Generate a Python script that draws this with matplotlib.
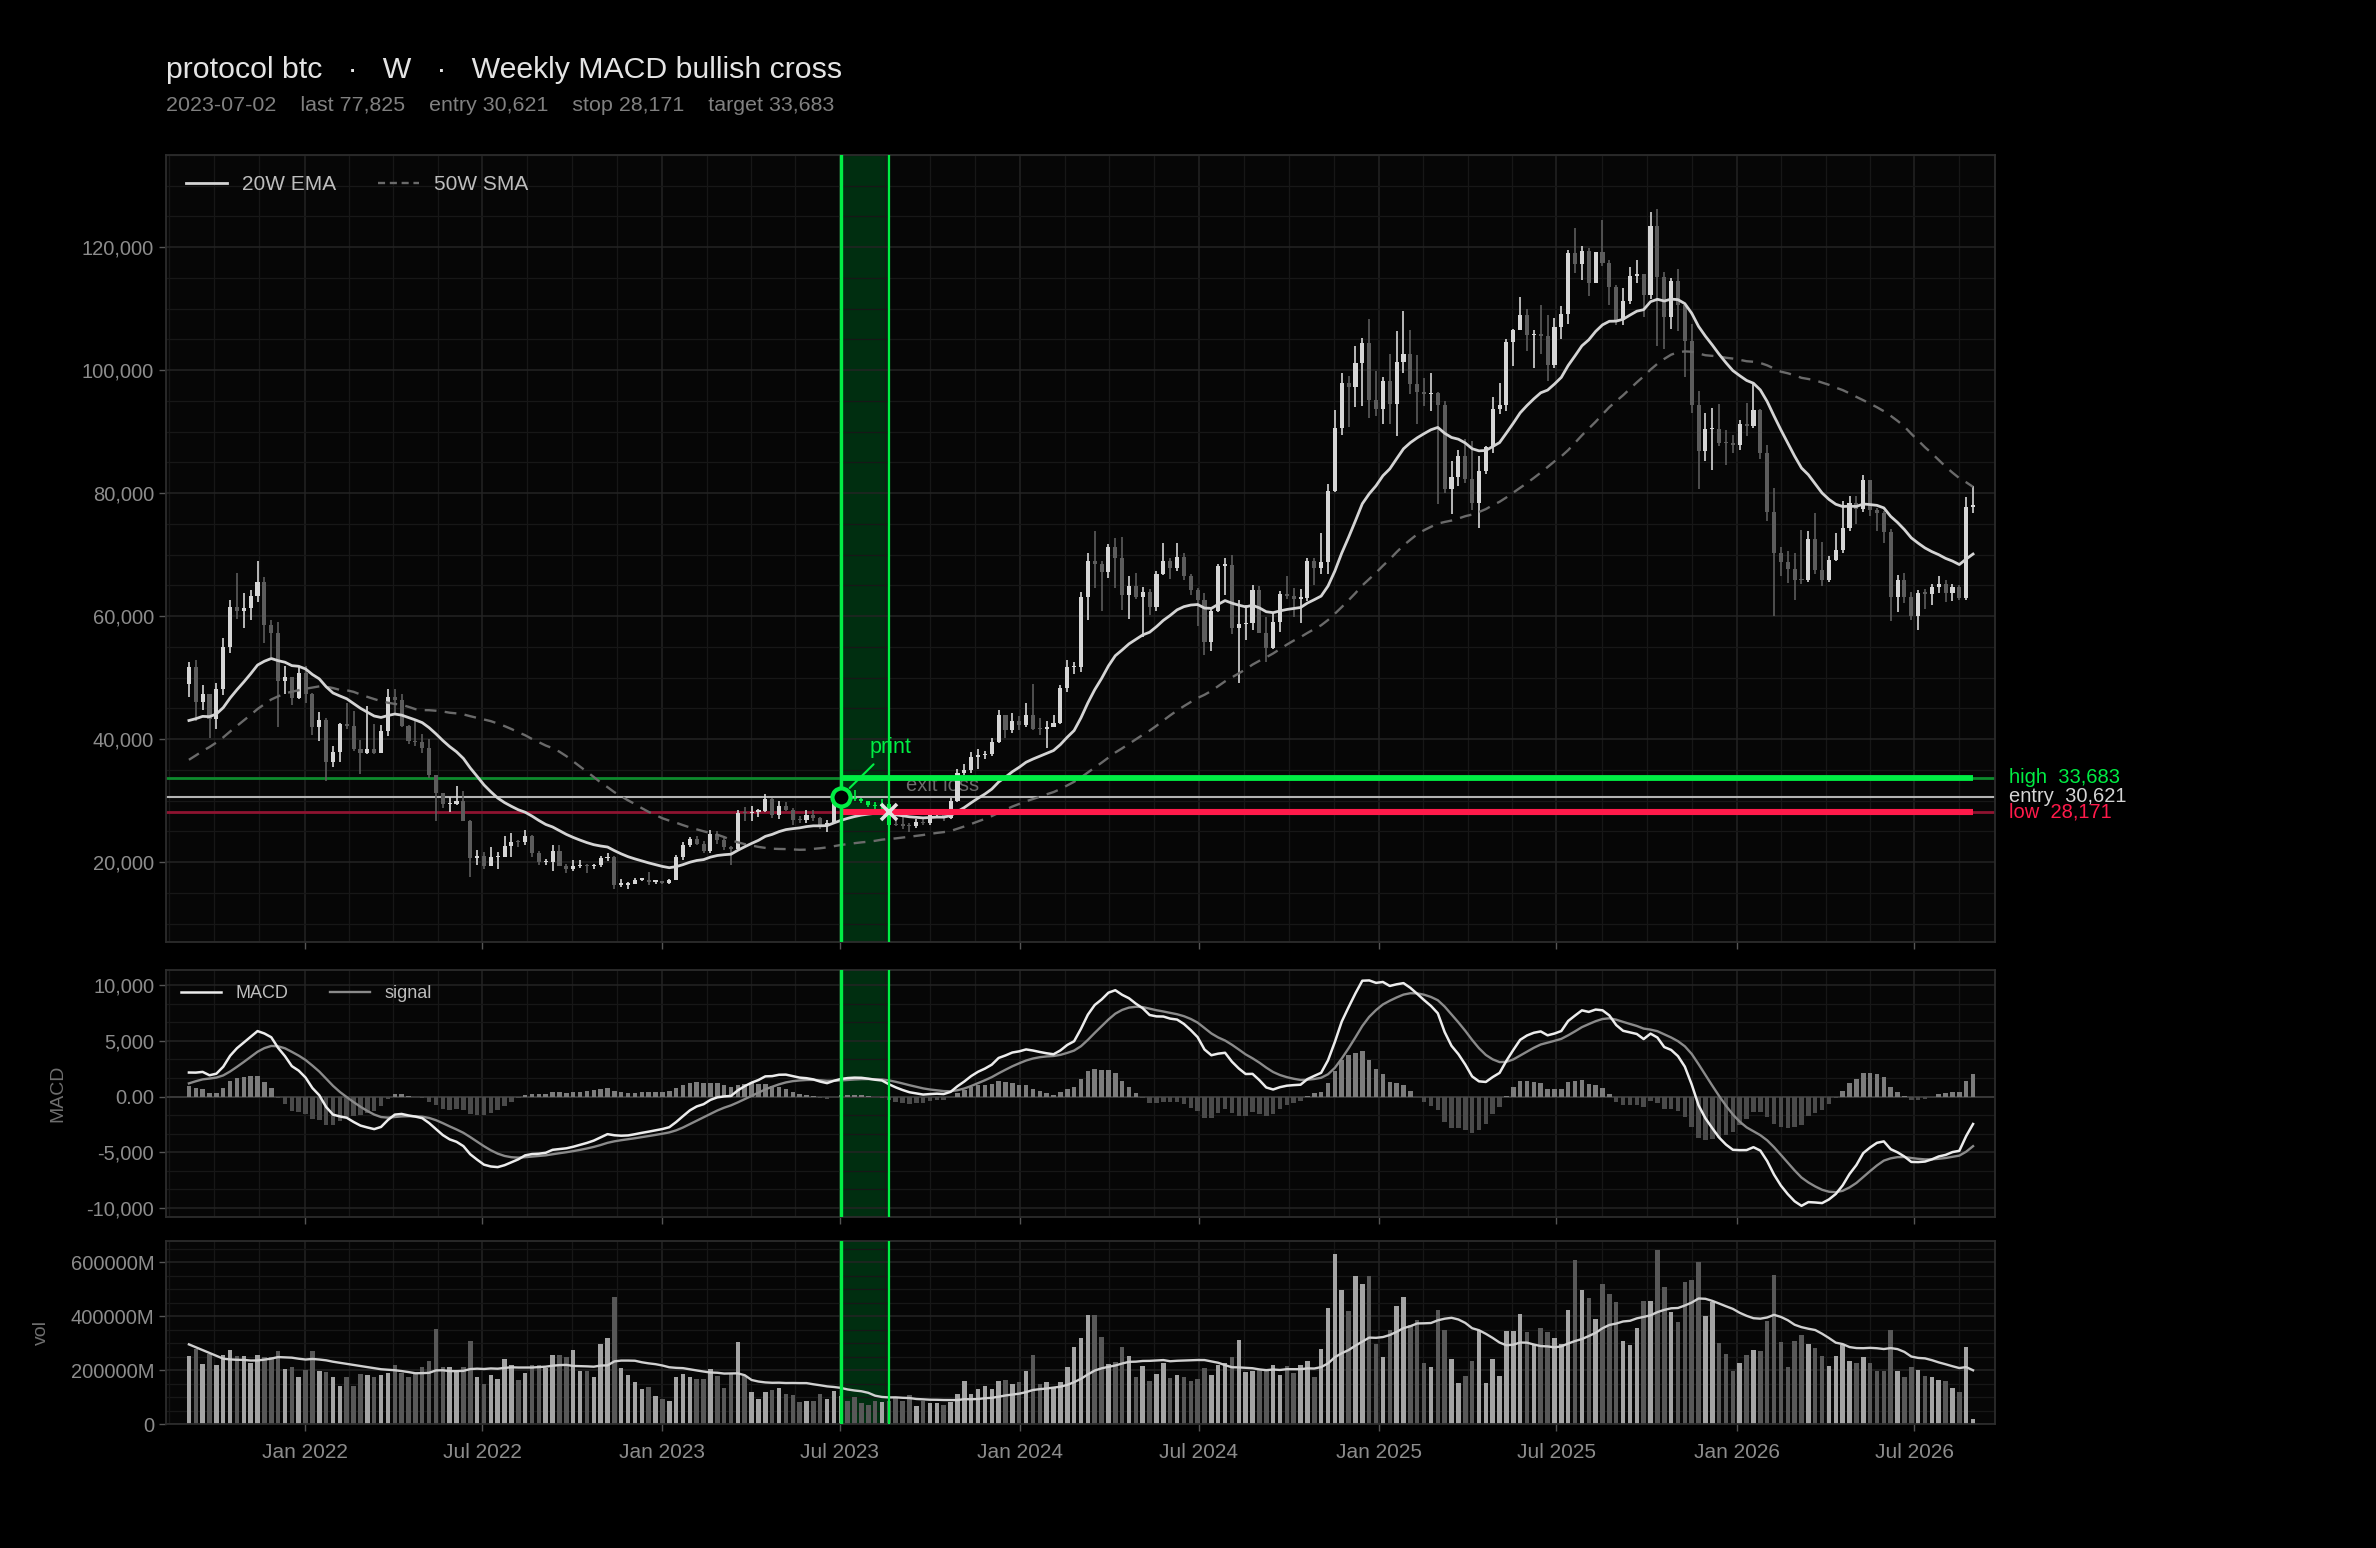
import matplotlib
matplotlib.use('Agg')
import matplotlib.pyplot as plt
import matplotlib.dates as mdates
import matplotlib.transforms as mtrans
from matplotlib.lines import Line2D
from matplotlib.ticker import FuncFormatter, MultipleLocator, FixedLocator
import numpy as np
import pandas as pd

plt.rcParams['font.family'] = ['Liberation Sans', 'DejaVu Sans']

# ---- data (weekly, label = week-ending sunday) ----
first_week = '2021-09-05'
open_first_k = 48.9

close_k = [
    51.8, 46.1, 47.3, 43.2, 48.2, 54.9, 61.5, 60.9, 61.3, 63.3,
    65.5, 58.6, 57.3, 49.4, 50.1, 46.7, 50.8, 47.3, 41.9, 43.1,
    36.3, 37.9, 42.4, 42.2, 38.4, 37.7, 38.4, 37.8, 41.3, 46.8,
    46.4, 42.2, 39.7, 39.5, 38.5, 34.1, 31.3, 29.4, 29.4, 29.9,
    26.6, 20.6, 21.0, 19.3, 20.8, 20.8, 22.6, 23.3, 23.2, 24.3,
    21.5, 20.0, 20.0, 21.8, 19.4, 18.8, 19.3, 19.4, 19.3, 19.6,
    20.6, 20.9, 16.3, 16.3, 16.5, 17.1, 17.1, 16.8, 16.8, 16.6,
    17.1, 20.9, 22.7, 23.7, 22.9, 21.8, 24.6, 23.6, 22.4, 22.1,
    28.0, 27.9, 28.2, 28.3, 30.3, 27.6, 29.2, 28.4, 26.9, 26.8,
    27.7, 27.1, 25.9, 26.3, 30.5, 30.621, 30.3, 30.2, 29.9, 29.3,
    29.1, 29.4, 26.1, 26.0, 25.9, 25.8, 26.5, 26.3, 27.9, 27.9,
    27.2, 30.0, 34.5, 35.0, 37.1, 37.4, 37.5, 39.5, 44.0, 41.4,
    43.0, 42.3, 44.0, 41.7, 41.6, 42.0, 42.6, 48.3, 51.7, 51.7,
    63.1, 68.9, 68.4, 67.2, 71.3, 69.4, 63.4, 64.9, 63.1, 63.9,
    61.5, 66.9, 69.0, 67.8, 69.6, 66.5, 64.3, 62.7, 55.8, 60.8,
    68.2, 68.3, 58.1, 58.7, 58.9, 64.2, 57.3, 54.8, 59.1, 63.6,
    63.3, 62.8, 62.9, 69.0, 67.9, 68.8, 80.4, 90.6, 97.9, 97.2,
    101.2, 104.5, 95.2, 93.7, 98.3, 94.5, 101.3, 102.6, 97.7, 96.5,
    96.1, 96.3, 94.3, 80.7, 82.6, 86.1, 82.3, 78.4, 83.6, 87.5,
    93.7, 94.3, 104.6, 106.5, 109.0, 105.7, 105.7, 105.6, 100.9, 107.1,
    109.2, 119.1, 117.3, 119.4, 114.2, 119.3, 117.5, 113.5, 108.2, 111.2,
    115.3, 115.7, 112.2, 123.5, 115.2, 108.6, 114.5, 110.6, 104.7, 94.4,
    86.8, 90.4, 90.5, 88.2, 88.1, 87.8, 91.3, 91.0, 93.5, 86.5,
    77.0, 70.2, 68.8, 67.7, 65.9, 65.8, 72.6, 67.5, 65.8, 69.1,
    70.7, 74.3, 78.4, 77.4, 82.1, 77.2, 76.8, 73.7, 63.1, 65.8,
    63.1, 60.0, 63.7, 63.6, 64.8, 65.3, 63.7, 64.8, 63.0, 77.8,
    77.825,
]

high_k = [
    52.5, 52.9, 48.8, 47.3, 49.2, 56.5, 62.6, 67.0, 63.7, 64.3,
    69.0, 66.3, 59.4, 59.0, 51.9, 50.0, 51.9, 51.9, 47.5, 44.4,
    43.5, 38.9, 42.7, 45.8, 44.6, 39.8, 45.4, 42.4, 42.3, 48.1,
    48.2, 47.4, 42.3, 42.9, 40.8, 40.0, 34.2, 31.3, 30.6, 32.3,
    31.5, 26.9, 21.9, 21.6, 22.4, 21.6, 24.3, 24.7, 23.6, 25.2,
    24.4, 21.8, 20.5, 22.7, 22.7, 19.7, 20.4, 20.4, 19.7, 19.7,
    21.0, 21.5, 21.0, 17.2, 16.8, 17.4, 17.4, 18.4, 16.9, 16.8,
    17.2, 21.2, 23.2, 24.0, 24.2, 23.4, 25.2, 25.1, 23.9, 22.6,
    28.4, 28.9, 29.2, 28.6, 31.0, 30.5, 30.0, 29.8, 28.8, 27.5,
    28.4, 28.4, 27.3, 26.8, 31.4, 31.3, 31.5, 31.8, 30.4, 30.0,
    29.7, 30.2, 29.5, 26.8, 28.2, 26.3, 27.0, 27.4, 28.0, 28.6,
    27.9, 30.4, 35.2, 35.9, 37.9, 38.4, 38.0, 40.2, 44.7, 44.0,
    44.3, 43.8, 45.9, 48.9, 43.5, 42.9, 43.9, 48.8, 52.9, 52.5,
    64.0, 70.2, 73.8, 68.9, 71.8, 72.7, 72.8, 66.5, 67.0, 64.7,
    64.4, 67.4, 71.9, 69.5, 71.9, 70.2, 66.9, 64.6, 63.8, 61.3,
    68.4, 69.4, 70.0, 62.7, 61.8, 65.0, 64.9, 59.8, 60.7, 64.1,
    66.5, 64.5, 64.4, 69.5, 69.4, 73.6, 81.5, 93.5, 99.6, 99.0,
    104.0, 105.3, 108.3, 99.9, 98.9, 102.7, 106.3, 109.6, 106.5, 102.5,
    98.8, 99.5, 96.5, 95.0, 85.3, 87.0, 88.8, 88.5, 86.0, 87.7,
    95.7, 97.9, 105.0, 106.7, 111.9, 110.0, 106.5, 110.6, 108.9, 108.5,
    110.5, 119.5, 123.2, 120.2, 119.8, 119.3, 124.5, 118.0, 113.9, 113.4,
    116.8, 118.0, 115.7, 125.7, 126.2, 116.0, 115.0, 116.4, 111.0, 107.5,
    96.6, 93.1, 93.8, 94.5, 90.2, 89.5, 91.9, 94.7, 97.9, 93.7,
    87.8, 80.9, 71.3, 70.6, 70.3, 74.0, 73.8, 76.8, 72.0, 69.7,
    73.6, 78.7, 79.5, 79.6, 82.9, 82.2, 77.6, 77.1, 74.1, 66.7,
    67.0, 64.0, 64.2, 64.4, 65.3, 66.6, 65.8, 65.3, 65.1, 79.4,
    81.2,
]

low_k = [
    46.9, 43.0, 44.7, 40.1, 41.7, 47.1, 54.0, 59.5, 58.0, 59.4,
    62.3, 55.6, 53.3, 42.0, 47.3, 45.6, 46.6, 45.9, 40.6, 39.7,
    33.2, 35.5, 36.3, 41.7, 38.1, 34.3, 37.6, 37.6, 37.8, 40.5,
    44.2, 41.9, 39.2, 38.9, 37.7, 33.7, 26.7, 28.8, 28.2, 29.3,
    26.6, 17.6, 19.6, 18.8, 19.3, 18.9, 20.8, 20.8, 22.4, 22.7,
    20.8, 19.6, 19.6, 18.6, 19.3, 18.2, 18.5, 19.1, 18.2, 18.9,
    19.2, 20.1, 15.6, 15.9, 15.6, 16.4, 16.9, 16.3, 16.5, 16.4,
    16.5, 17.1, 20.4, 22.5, 22.7, 21.4, 21.5, 22.9, 21.9, 19.6,
    22.0, 26.7, 26.6, 27.3, 28.2, 27.1, 27.0, 28.3, 26.0, 26.3,
    26.4, 26.6, 25.4, 24.9, 26.2, 29.9, 29.7, 29.9, 29.6, 28.9,
    28.7, 28.7, 25.4, 25.8, 25.4, 24.9, 25.6, 26.0, 26.0, 27.3,
    26.6, 27.0, 29.7, 34.1, 34.5, 35.2, 36.7, 37.2, 39.4, 40.2,
    41.0, 41.4, 42.0, 41.5, 40.6, 38.5, 41.9, 42.5, 47.7, 50.6,
    50.9, 59.3, 64.6, 60.8, 66.2, 64.6, 61.0, 59.6, 62.8, 56.6,
    60.2, 60.8, 66.7, 66.1, 67.3, 65.9, 63.4, 58.4, 53.6, 54.3,
    60.7, 63.5, 57.1, 49.1, 56.1, 57.8, 57.2, 52.6, 54.6, 57.5,
    62.8, 59.8, 58.9, 62.5, 65.1, 66.8, 66.8, 80.2, 89.4, 90.8,
    94.0, 94.2, 92.2, 92.5, 91.3, 91.2, 89.3, 99.5, 96.2, 91.2,
    94.1, 93.4, 78.2, 80.0, 76.6, 81.2, 81.6, 77.2, 74.4, 83.1,
    86.6, 92.8, 93.4, 100.7, 106.5, 103.1, 100.4, 102.7, 98.2, 100.3,
    105.1, 107.5, 115.8, 114.7, 112.0, 114.2, 116.9, 110.6, 107.3, 107.3,
    110.8, 114.2, 108.7, 111.6, 104.0, 103.5, 106.7, 106.3, 98.9, 93.0,
    80.6, 85.3, 83.8, 87.6, 84.5, 86.5, 87.0, 89.3, 90.6, 85.5,
    75.5, 60.1, 66.5, 65.4, 62.6, 65.3, 65.6, 66.8, 64.9, 65.5,
    68.9, 70.2, 73.8, 75.0, 77.0, 76.3, 73.9, 71.9, 59.2, 60.7,
    62.1, 59.3, 57.8, 61.2, 61.8, 63.7, 62.3, 62.4, 62.6, 62.7,
    76.8,
]

# weekly volume, thousands of millions
vol_k = [
    253, 278, 222, 260, 220, 257, 275, 252, 252, 225,
    256, 250, 247, 272, 204, 212, 173, 200, 272, 198,
    193, 175, 142, 175, 142, 185, 183, 173, 181, 188,
    219, 188, 173, 185, 212, 235, 353, 210, 210, 198,
    212, 306, 173, 150, 183, 165, 242, 219, 164, 190,
    217, 217, 207, 256, 257, 250, 276, 195, 195, 173,
    297, 317, 470, 209, 183, 154, 128, 138, 104, 92,
    86, 173, 186, 175, 168, 168, 205, 176, 135, 185,
    302, 176, 119, 94, 118, 126, 135, 113, 108, 83,
    86, 86, 112, 92, 123, 104, 86, 100, 78, 71,
    86, 83, 86, 98, 86, 107, 67, 86, 79, 78,
    71, 82, 111, 160, 111, 130, 140, 129, 160, 164,
    150, 154, 198, 257, 148, 154, 135, 154, 210, 284,
    319, 402, 402, 324, 222, 229, 287, 253, 173, 216,
    158, 185, 225, 170, 183, 173, 160, 166, 207, 183,
    220, 225, 247, 312, 191, 198, 200, 198, 220, 183,
    216, 188, 220, 232, 173, 278, 431, 630, 498, 419,
    548, 518, 548, 297, 247, 350, 436, 471, 365, 386,
    226, 210, 421, 350, 241, 153, 179, 235, 349, 153,
    242, 176, 344, 344, 406, 340, 297, 357, 340, 317,
    297, 421, 607, 496, 465, 390, 518, 481, 452, 307,
    291, 357, 456, 456, 645, 506, 415, 378, 527, 533,
    599, 399, 452, 300, 260, 198, 227, 257, 276, 272,
    381, 552, 302, 212, 309, 328, 297, 282, 253, 216,
    253, 294, 232, 225, 250, 225, 198, 198, 347, 195,
    173, 210, 200, 179, 175, 163, 160, 135, 118, 287,
    17,
]

# weeks before the window (sep 2020 - aug 2021), only feed the averages
pre_close_k = [
    10.9, 10.8, 10.7, 11.4, 11.5, 13.0, 13.7, 15.5, 16.0, 18.4,
    18.2, 19.1, 19.3, 23.9, 26.3, 32.8, 38.4, 35.8, 32.3, 33.1,
    39.3, 48.6, 57.5, 45.2, 51.2, 59.3, 57.5, 55.8, 58.0, 59.8,
    56.2, 49.0, 56.6, 58.2, 46.5, 34.7, 35.7, 35.8, 39.1, 35.5,
    34.7, 35.3, 34.2, 31.8, 35.4, 39.9, 43.8, 47.0, 49.3, 48.8,
]
pre_vol_k = [490, 434, 472, 432, 469, 330, 280, 260, 270, 250,
             190, 170, 160, 230, 230, 250, 260, 230, 240]

signal_date = '2023-07-02'
exit_date = '2023-08-20'
entry = 30621
stop = 28171
target = 33683
last = 77825

# ---- indicators ----
close = np.array(close_k) * 1000
high = np.array(high_k) * 1000
low = np.array(low_k) * 1000
opn = np.r_[open_first_k * 1000, close[:-1]]
high = np.maximum(high, np.maximum(opn, close))
low = np.minimum(low, np.minimum(opn, close))
vol = np.array(vol_k) * 1000.0
n = len(close)

full = pd.Series(np.r_[np.array(pre_close_k) * 1000, close])
ema20 = full.ewm(span=20, adjust=False).mean().values[-n:]
sma50 = full.rolling(50).mean().values[-n:]
macd_full = full.ewm(span=12, adjust=False).mean() - full.ewm(span=26, adjust=False).mean()
sig_full = macd_full.ewm(span=9, adjust=False).mean()
macd = macd_full.values[-n:]
sig = sig_full.values[-n:]
hist = macd - sig
vol_ma = pd.Series(np.r_[np.array(pre_vol_k) * 1000.0, vol]).rolling(20).mean().values[-n:]

dates = pd.date_range(first_week, periods=n, freq='7D')
x = mdates.date2num(dates)
x_sig = mdates.date2num(pd.Timestamp(signal_date))
x_exit = mdates.date2num(pd.Timestamp(exit_date))
in_trade = (dates >= pd.Timestamp(signal_date)) & (dates <= pd.Timestamp(exit_date))

# ---- style ----
PANEL = '#060606'
GRID = '#242424'
GRID_MINOR = '#171717'
TXT = '#8c8c8c'
GREEN = '#00ee44'
GREEN_DIM = '#0d8a2d'
RED = '#ff1a4a'
RED_DIM = '#8e1330'
UP = '#d6d6d6'
DOWN = '#5c5c5c'
SHADE = '#002e10'

fig = plt.figure(figsize=(23.76, 15.48), dpi=100, facecolor='black')
L, W = 166 / 2376, 1829 / 2376
ax = fig.add_axes([L, 1 - 942 / 1548, W, 787 / 1548])
ax2 = fig.add_axes([L, 1 - 1217 / 1548, W, 247 / 1548], sharex=ax)
ax3 = fig.add_axes([L, 1 - 1424 / 1548, W, 183 / 1548], sharex=ax)

majors = pd.date_range('2021-07-01', '2027-01-01', freq='6MS')
mn = mdates.date2num(majors)
minor_x = []
for a, b in zip(mn[:-1], mn[1:]):
    minor_x += [a + (b - a) * k / 4 for k in (1, 2, 3)]

for a in (ax, ax2, ax3):
    a.set_facecolor(PANEL)
    a.set_axisbelow(True)
    for s in a.spines.values():
        s.set_color('#2c2c2c')
        s.set_linewidth(1.3)
    a.grid(which='major', color=GRID, lw=1.1)
    a.grid(which='minor', color=GRID_MINOR, lw=0.9)
    a.tick_params(which='major', colors='#555555', labelcolor=TXT, labelsize=14.5, length=5, width=1)
    a.tick_params(which='minor', length=0)
    a.axvspan(x_sig, x_exit, color=SHADE, lw=0, zorder=0.3)
    a.axvline(x_sig, color=GREEN, lw=2.4, zorder=4.5)
    a.axvline(x_exit, color=GREEN, lw=1.6, zorder=4.5)

ax.xaxis.set_major_locator(mdates.MonthLocator(bymonth=[1, 7]))
ax.xaxis.set_minor_locator(FixedLocator(minor_x))
ax.xaxis.set_major_formatter(mdates.DateFormatter('%b %Y'))
ax.set_xlim(x[0] - 3.34 * 7, x[0] + 263.2 * 7)
ax.tick_params(labelbottom=False)
ax2.tick_params(labelbottom=False)

# ---- price panel ----
col = np.where(close >= opn, UP, DOWN).astype(object)
col[in_trade] = GREEN
body_lo = np.minimum(opn, close)
body_h = np.maximum(np.abs(close - opn), 250)
ax.vlines(x, low, high, colors=list(col), lw=1.2, zorder=3)
ax.bar(x, body_h, bottom=body_lo, width=4.2, color=list(col), lw=0, zorder=3)

ax.plot(x, ema20, color='#d4d4d4', lw=2.0, zorder=3.5)
ax.plot(x, sma50, color='#6a6a6a', lw=1.7, ls=(0, (5, 3.5)), zorder=3.4)

ax.axhline(target, color=GREEN_DIM, lw=2.0, zorder=1.6)
ax.axhline(entry, color='#b4b4b4', lw=1.5, zorder=1.6)
ax.axhline(stop, color=RED_DIM, lw=2.0, zorder=1.6)
ax.hlines(target, x_sig, x[-1], color=GREEN, lw=4.2, zorder=4)
ax.hlines(stop, x_sig, x[-1], color=RED, lw=4.4, zorder=4)

tr = mtrans.blended_transform_factory(ax.transAxes, ax.transData)
ax.text(1.0077, target, f'high  {target:,}', transform=tr, color=GREEN, fontsize=14.5,
        va='center', ha='left', clip_on=False)
ax.text(1.0077, entry, f'entry  {entry:,}', transform=tr, color='#d4d4d4', fontsize=14.5,
        va='center', ha='left', clip_on=False)
ax.text(1.0077, stop, f'low  {stop:,}', transform=tr, color=RED, fontsize=14.5,
        va='center', ha='left', clip_on=False)

ax.text(x[0] + 109.8 * 7, 32400, 'exit loss', color='#6c6c6c', fontsize=14.5,
        ha='center', va='center', zorder=2.5)
ax.annotate('print', xy=(x_sig, entry), xytext=(x[0] + 102.3 * 7, 38700), color=GREEN,
            fontsize=15.5, ha='center', va='center', zorder=6,
            arrowprops=dict(arrowstyle='-', color=GREEN, lw=1.5, shrinkA=4, shrinkB=9))
ax.plot(x_sig, entry, 'o', ms=13, mfc='black', mec=GREEN, mew=3, zorder=6)
ax.plot(x_exit, stop, 'x', ms=11, mew=2.6, color='#e2e2e2', zorder=6)

ax.set_ylim(7000, 135000)
ax.yaxis.set_major_locator(MultipleLocator(20000))
ax.yaxis.set_minor_locator(MultipleLocator(5000))
ax.yaxis.set_major_formatter(FuncFormatter(lambda v, p: f'{v:,.0f}'))

ax.legend(handles=[Line2D([], [], color='#d4d4d4', lw=2.0),
                   Line2D([], [], color='#6a6a6a', lw=1.7, ls=(0, (3, 2)))],
          labels=['20W EMA', '50W SMA'], loc='upper left', ncol=2, frameon=False,
          fontsize=15, handlelength=2.0, handletextpad=0.7, columnspacing=2.0,
          borderpad=0.95, borderaxespad=0, labelcolor='#bdbdbd')

# ---- macd panel ----
ax2.axhline(0, color='#3a3a3a', lw=1.3, zorder=1)
ax2.bar(x, hist, width=4.6, color=np.where(hist >= 0, '#7c7c7c', '#4a4a4a'), lw=0, zorder=2)
ax2.plot(x, sig, color='#8a8a8a', lw=1.7, zorder=3)
ax2.plot(x, macd, color='#ececec', lw=1.8, zorder=3.2)
ax2.set_ylim(-10800, 11350)
ax2.yaxis.set_major_locator(MultipleLocator(5000))
ax2.yaxis.set_minor_locator(MultipleLocator(5000 / 3))
ax2.yaxis.set_major_formatter(FuncFormatter(lambda v, p: '0.00' if abs(v) < 1e-6 else f'{v:,.0f}'))
ax2.set_ylabel('MACD', color='#6f6f6f', fontsize=14)
ax2.yaxis.set_label_coords(-0.0547, 0.5)
ax2.legend(handles=[Line2D([], [], color='#ececec', lw=1.8), Line2D([], [], color='#8a8a8a', lw=1.7)],
           labels=['MACD', 'signal'], loc='upper left', ncol=2, frameon=False, fontsize=13,
           handlelength=2.2, handletextpad=0.8, columnspacing=2.3, borderpad=0.85,
           borderaxespad=0, labelcolor='#bdbdbd')

# ---- volume panel ----
vcol = np.where(close >= opn, '#a4a4a4', '#585858')
ax3.bar(x, vol, width=4.6, color=vcol, lw=0, zorder=2)
ax3.plot(x, vol_ma, color='#d0d0d0', lw=1.7, zorder=3)
ax3.set_ylim(0, 678000)
ax3.yaxis.set_major_locator(MultipleLocator(200000))
ax3.yaxis.set_minor_locator(MultipleLocator(50000))
ax3.yaxis.set_major_formatter(FuncFormatter(lambda v, p: '0' if abs(v) < 1e-6 else f'{v:.0f}M'))
ax3.set_ylabel('vol', color='#6f6f6f', fontsize=14)
ax3.yaxis.set_label_coords(-0.0634, 0.5)
ax3.tick_params(axis='x', labelsize=15, pad=9)

# ---- titles ----
fig.text(L, 1 - 69.5 / 1548, 'protocol btc   \u00b7   W   \u00b7   Weekly MACD bullish cross',
         color='#e4e4e4', fontsize=21.8, ha='left', va='center')
fig.text(L, 1 - 105.5 / 1548,
         f'{signal_date}    last {last:,}    entry {entry:,}    stop {stop:,}    target {target:,}',
         color='#808080', fontsize=15.4, ha='left', va='center')

fig.savefig('out.png', dpi=100, facecolor='black')
